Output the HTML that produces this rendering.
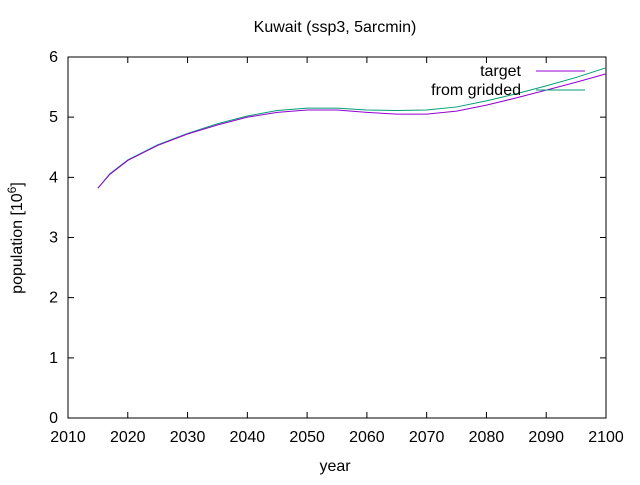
<!DOCTYPE html>
<html><head><meta charset="utf-8"><style>
body{margin:0;background:#fff}
svg{font-family:"Liberation Sans",sans-serif;font-size:16px}
</style></head><body>
<svg width="640" height="480" viewBox="0 0 640 480">
<text x="335" y="32" text-anchor="middle">Kuwait (ssp3, 5arcmin)</text>
<g id="axes"></g>
<g id="series"></g>
<text x="335" y="471" text-anchor="middle">year</text>
<text transform="translate(22,238) rotate(-90)" text-anchor="middle">population [10<tspan dy="-6" font-size="12">6</tspan><tspan dy="6">]</tspan></text>
<g>
<text x="521" y="76" text-anchor="end">target</text>
<line x1="536" y1="71" x2="585" y2="71" stroke="#9400d3"/>
<text x="521" y="95" text-anchor="end">from gridded</text>
<line x1="536" y1="90" x2="585" y2="90" stroke="#009e73"/>
</g>
</svg>
<script>
const years=[2015,2017,2020,2025,2030,2035,2040,2045,2050,2055,2060,2065,2070,2075,2080,2085,2090,2095,2100];
const target=[3.82,4.05,4.28,4.53,4.72,4.87,5.00,5.08,5.12,5.12,5.08,5.05,5.05,5.10,5.20,5.32,5.45,5.58,5.72];
const gridded=[3.82,4.06,4.29,4.54,4.73,4.89,5.02,5.11,5.15,5.15,5.12,5.11,5.12,5.17,5.27,5.39,5.52,5.66,5.82];
const xTicks=[2010,2020,2030,2040,2050,2060,2070,2080,2090,2100];
const yTicks=[0,1,2,3,4,5,6];
const L=68,R=606,T=57,B=418;
const xs=v=>L+(v-2010)/90*(R-L);
const ys=v=>B-v/6*(B-T);
const NS="http://www.w3.org/2000/svg";
const ax=document.getElementById('axes');
function mk(tag,attrs,parent){const e=document.createElementNS(NS,tag);for(const k in attrs)e.setAttribute(k,attrs[k]);parent.appendChild(e);return e;}
const frame=mk('rect',{x:L,y:T,width:R-L,height:B-T,fill:'none',stroke:'#000'},ax);


xTicks.forEach(t=>{
 const x=xs(t);
 const l=mk('path',{d:`M${x},${B}v-6M${x},${T}v6`,stroke:'#000'},ax);
 
 
 const tx=mk('text',{x:x,y:B+24,'text-anchor':'middle'},ax);tx.textContent=t;
 
 
});
yTicks.forEach(t=>{
 const y=ys(t);
 const l=mk('path',{d:`M${L},${y}h6M${R},${y}h-6`,stroke:'#000'},ax);
 
 
 const tx=mk('text',{x:L-10,y:y+5,'text-anchor':'end'},ax);tx.textContent=t;
 
 
});
const sg=document.getElementById('series');
function line(vals,color,name){
 const p=mk('polyline',{points:years.map((y,i)=>xs(y)+','+ys(vals[i])).join(' '),fill:'none',stroke:color,'stroke-width':1},sg);
 
 
}
line(gridded,'#009e73','line-from-gridded');
line(target,'#9400d3','line-target');
</script>
</body></html>
